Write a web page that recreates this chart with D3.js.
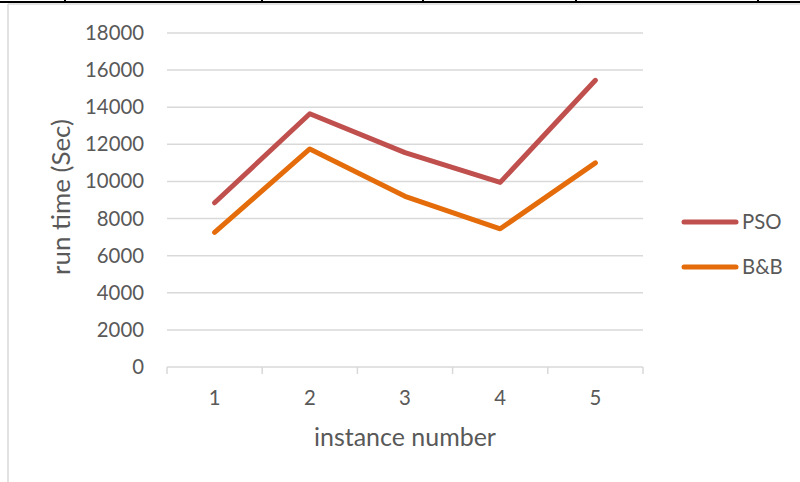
<!DOCTYPE html>
<html>
<head>
<meta charset="utf-8">
<script src="https://cdn.jsdelivr.net/npm/d3@7"></script>
<style>
  html, body { margin: 0; padding: 0; background: #fff; }
  svg { display: block; }
  text { font-family: Lato, "Open Sans", sans-serif; fill: #595959; }
</style>
</head>
<body>
<svg id="chart" width="800" height="482"></svg>
<script>
const categories = ["1", "2", "3", "4", "5"];
const psoValues = [8850, 13650, 11550, 9950, 15450];
const bbValues = [7250, 11750, 9200, 7450, 11000];
const yTicks = [0, 2000, 4000, 6000, 8000, 10000, 12000, 14000, 16000, 18000];
const seriesNames = ["PSO", "B&B"];
const seriesColors = ["#C0504D", "#E46C0A"];

const svg = d3.select("#chart");
const W = 800, H = 482;
const FONT = "Lato, 'Open Sans', sans-serif";

// scale a text element's font size so that it spans the wanted width
function fitWidth(sel, width) {
  sel.each(function () {
    const base = parseFloat(this.getAttribute("font-size"));
    const w = this.getComputedTextLength();
    if (w > 0) this.setAttribute("font-size", (base * width / w).toFixed(2));
  });
}

// table cell borders around the chart
svg.append("line").attr("x1", 0).attr("x2", W).attr("y1", 2).attr("y2", 2)
  .attr("stroke", "#000").attr("stroke-width", 2);
[65, 262, 423, 576, 758].forEach(x => {
  svg.append("line").attr("x1", x).attr("x2", x).attr("y1", 0).attr("y2", 3)
    .attr("stroke", "#000").attr("stroke-width", 2);
});
svg.append("line").attr("x1", 8).attr("x2", W).attr("y1", 4).attr("y2", 4)
  .attr("stroke", "#D9D9D9").attr("stroke-width", 1.5);
svg.append("line").attr("x1", 8).attr("x2", 8).attr("y1", 4).attr("y2", H)
  .attr("stroke", "#D9D9D9").attr("stroke-width", 1.5);

const plot = { left: 167, right: 643, top: 33, bottom: 367 };

const x = d3.scaleBand().domain(categories).range([plot.left, plot.right]).padding(0);
const y = d3.scaleLinear().domain([0, 18000]).range([plot.bottom, plot.top]);

// horizontal gridlines
svg.append("g").selectAll("line").data(yTicks.filter(t => t > 0)).join("line")
  .attr("x1", plot.left).attr("x2", plot.right)
  .attr("y1", d => y(d)).attr("y2", d => y(d))
  .attr("stroke", "#D9D9D9").attr("stroke-width", 1.5);

// y axis labels
const yAxis = d3.axisLeft(y).tickValues(yTicks).tickSize(0).tickPadding(0).tickFormat(d3.format("d"));
const gy = svg.append("g").attr("transform", `translate(${plot.left - 23},0)`).call(yAxis);
gy.select(".domain").remove();
gy.selectAll("text").attr("font-size", 20).style("font-family", FONT).attr("fill", "#595959");
const tickSize = (() => {
  const t = gy.selectAll("text").filter(d => d === 18000).node();
  return 20 * 59 / t.getComputedTextLength();
})();
gy.selectAll("text").attr("font-size", tickSize);

// x axis
const xAxis = d3.axisBottom(x).tickSize(0).tickPadding(0);
const gx = svg.append("g").attr("transform", `translate(0,${plot.bottom})`).call(xAxis);
gx.select(".domain").attr("stroke", "#D9D9D9").attr("stroke-width", 1.5)
  .attr("d", `M${plot.left},0H${plot.right}`);
gx.selectAll(".tick line").remove();
gx.selectAll(".tick text").attr("font-size", tickSize).attr("y", 31).attr("dy", "0.35em")
  .style("font-family", FONT).attr("fill", "#595959");
// category boundary tick marks
const bounds = categories.map(c => x(c)).concat([x(categories[categories.length - 1]) + x.bandwidth()]);
svg.append("g").selectAll("line").data(bounds).join("line")
  .attr("x1", d => d).attr("x2", d => d)
  .attr("y1", plot.bottom).attr("y2", plot.bottom + 7)
  .attr("stroke", "#D9D9D9").attr("stroke-width", 1.5);

// axis titles
svg.append("text").attr("x", 405).attr("y", 437).attr("dy", "0.35em")
  .attr("text-anchor", "middle").attr("font-size", 22).text("instance number")
  .call(fitWidth, 182);
svg.append("text").attr("transform", `translate(61,197) rotate(-90)`).attr("dy", "0.35em")
  .attr("text-anchor", "middle").attr("font-size", 22).text("run time (Sec)")
  .call(fitWidth, 156);

// series lines
const line = d3.line().x((d, i) => x(categories[i]) + x.bandwidth() / 2).y(d => y(d));
[psoValues, bbValues].forEach((vals, k) => {
  svg.append("path").datum(vals).attr("d", line)
    .attr("fill", "none").attr("stroke", seriesColors[k]).attr("stroke-width", 5)
    .attr("stroke-linecap", "round").attr("stroke-linejoin", "round");
});

// legend
const legendY = [222, 267];
seriesNames.forEach((name, k) => {
  svg.append("line").attr("x1", 684).attr("x2", 736).attr("y1", legendY[k]).attr("y2", legendY[k])
    .attr("stroke", seriesColors[k]).attr("stroke-width", 5).attr("stroke-linecap", "round");
  svg.append("text").attr("x", 742).attr("y", legendY[k]).attr("dy", "0.35em")
    .attr("font-size", tickSize).text(name);
});
</script>
</body>
</html>
